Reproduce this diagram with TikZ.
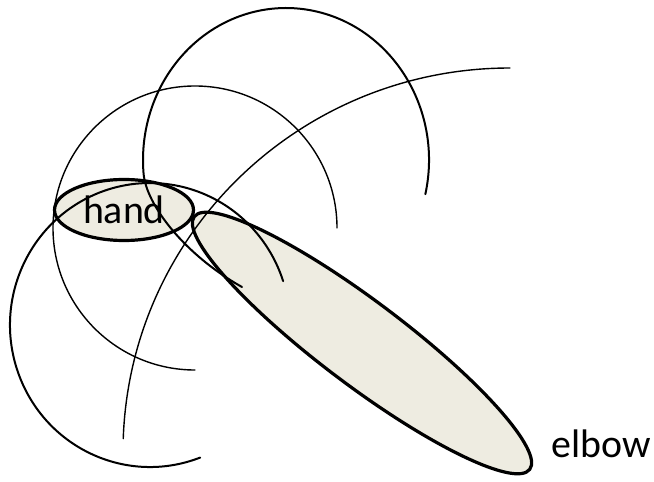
\documentclass[tikz,border=0pt]{standalone}
\usepackage{fontspec}
\setmainfont{Carlito}
\usetikzlibrary{shapes.geometric}
\definecolor{limbfill}{HTML}{EEECE1}
\begin{document}
\begin{tikzpicture}[x=1bp,y=-1bp,
  limb/.style={draw=black, fill=limbfill, line width=3.2bp, ellipse, inner sep=0pt},
  thickarc/.style={line width=2bp, line cap=round},
  thinarc/.style={line width=1.4bp, line cap=round},
  lbl/.style={font=\fontsize{40}{44}\selectfont, text=black}]
\useasboundingbox (0,0) rectangle (654,482);
% limbs
\node[limb, minimum width=139bp, minimum height=61bp, lbl] (hand) at (124,210) {hand};
\node[limb, minimum width=420bp, minimum height=84bp, rotate=-37] (forearm) at (362,343) {};
% centres of the arcs
\coordinate (cA) at (286,160);
\coordinate (cB) at (195,228);
\coordinate (cC) at (510,452);
\coordinate (cD) at (150,325);
% big top arc
\draw[thickarc] ([shift={(13:143 and 152)}]cA) arc[start angle=13, end angle=-185, x radius=143, y radius=152]
  .. controls (146,205) and (185,255) .. (242,287);
% medium arc
\draw[thinarc] ([shift={(0:142)}]cB) arc[start angle=0, end angle=-270, radius=142];
% long arc
\draw[thinarc] ([shift={(-90:387 and 384)}]cC) arc[start angle=-90, end angle=-178, x radius=387, y radius=384];
% bottom-left arc
\draw[thickarc] ([shift={(69:140 and 142)}]cD) arc[start angle=69, end angle=342, x radius=140, y radius=142];
% label
\node[lbl] (elbow) at (601,444) {elbow};
\end{tikzpicture}
\end{document}
